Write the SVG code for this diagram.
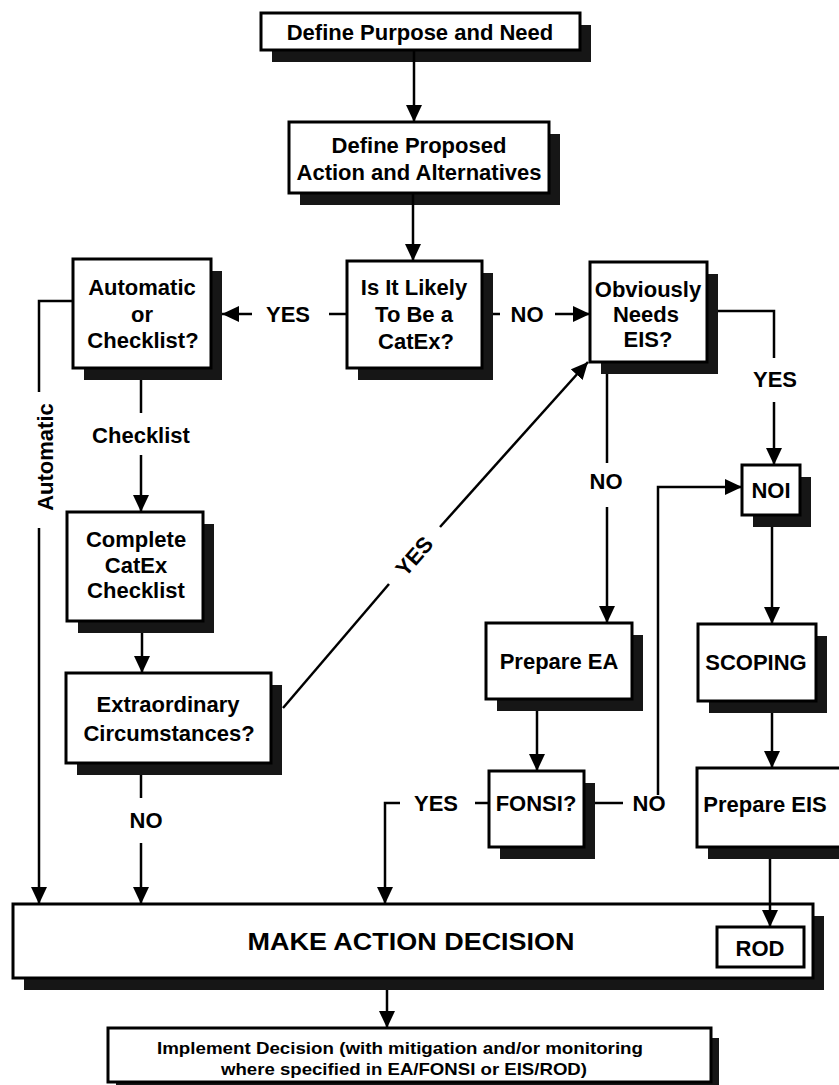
<svg xmlns="http://www.w3.org/2000/svg" width="839" height="1085" viewBox="0 0 839 1085">
<defs>
<marker id="ah" markerUnits="userSpaceOnUse" markerWidth="17" markerHeight="16" viewBox="0 0 17 16" refX="17" refY="8" orient="auto">
<path d="M0,0 L17,8 L0,16 Z" fill="#000"/>
</marker>
<style>
.box{fill:#fff;stroke:#000;stroke-width:3}
.sh{fill:#161616}
.t{font-family:"Liberation Sans",Arial,sans-serif;font-weight:bold;font-size:22px;text-anchor:middle;fill:#000}
.n{font-family:"Liberation Sans Narrow","Liberation Sans",Arial,sans-serif;font-weight:bold;text-anchor:middle;fill:#000}
.c{stroke:#000;stroke-width:2.5;fill:none}
.a{marker-end:url(#ah)}
</style>
</defs>
<rect width="839" height="1085" fill="#fff"/>

<g id="n-purpose">
<rect class="sh" x="272" y="25" width="319" height="37"/>
<rect class="box" x="261" y="13" width="319" height="37"/>
<text class="t" x="420" y="40">Define Purpose and Need</text>
</g>

<g id="n-proposed">
<rect class="sh" x="300" y="134" width="260" height="71"/>
<rect class="box" x="289" y="122" width="260" height="71"/>
<text class="t" x="419" y="153">Define Proposed</text>
<text class="t" x="419" y="180">Action and Alternatives</text>
</g>

<g id="n-likely">
<rect class="sh" x="358" y="273" width="135" height="107"/>
<rect class="box" x="347" y="261" width="135" height="107"/>
<text class="t" x="414" y="295">Is It Likely</text>
<text class="t" x="414" y="322">To Be a</text>
<text class="t" x="416" y="349">CatEx?</text>
</g>

<g id="n-automatic">
<rect class="sh" x="84" y="271" width="138" height="109"/>
<rect class="box" x="73" y="259" width="138" height="109"/>
<text class="t" x="142" y="295">Automatic</text>
<text class="t" x="142" y="322">or</text>
<text class="t" x="143" y="348">Checklist?</text>
</g>

<g id="n-obviously">
<rect class="sh" x="601" y="274" width="117" height="100"/>
<rect class="box" x="590" y="262" width="117" height="100"/>
<text class="t" x="648" y="297">Obviously</text>
<text class="t" x="646" y="322">Needs</text>
<text class="t" x="648" y="347">EIS?</text>
</g>

<g id="n-complete">
<rect class="sh" x="78" y="524" width="136" height="109"/>
<rect class="box" x="67" y="512" width="136" height="109"/>
<text class="t" x="136" y="547">Complete</text>
<text class="t" x="136" y="573">CatEx</text>
<text class="t" x="136" y="598">Checklist</text>
</g>

<g id="n-extraordinary">
<rect class="sh" x="77" y="685" width="205" height="90"/>
<rect class="box" x="66" y="673" width="205" height="90"/>
<text class="t" x="168" y="712">Extraordinary</text>
<text class="t" x="169" y="741">Circumstances?</text>
</g>

<g id="n-noi">
<rect class="sh" x="753" y="477" width="58" height="50"/>
<rect class="box" x="742" y="465" width="58" height="50"/>
<text class="t" x="771" y="498">NOI</text>
</g>

<g id="n-prepare-ea">
<rect class="sh" x="497" y="635" width="146" height="76"/>
<rect class="box" x="486" y="623" width="146" height="76"/>
<text class="t" x="559" y="669">Prepare EA</text>
</g>

<g id="n-scoping">
<rect class="sh" x="709" y="636" width="118" height="77"/>
<rect class="box" x="698" y="624" width="118" height="77"/>
<text class="t" x="756" y="670">SCOPING</text>
</g>

<g id="n-fonsi">
<rect class="sh" x="500" y="783" width="95" height="76"/>
<rect class="box" x="489" y="771" width="95" height="76"/>
<text class="t" x="536" y="811">FONSI?</text>
</g>

<g id="n-prepare-eis">
<rect class="sh" x="708" y="780" width="150" height="79"/>
<rect class="box" x="697" y="768" width="150" height="79"/>
<text class="t" x="765" y="812">Prepare EIS</text>
</g>

<g id="n-decision">
<rect class="sh" x="24" y="916" width="800" height="74"/>
<rect class="box" x="13" y="904" width="800" height="74"/>
<text class="n" x="411" y="950" font-size="24" textLength="327" lengthAdjust="spacingAndGlyphs">MAKE ACTION DECISION</text>
</g>

<g id="n-rod">
<rect class="box" x="717" y="927" width="87" height="40"/>
<text class="t" x="760" y="956" font-size="23px">ROD</text>
</g>

<g id="n-implement">
<rect class="sh" x="116" y="1038" width="603" height="54"/>
<rect class="box" x="108" y="1028" width="603" height="54"/>
<text class="n" x="400" y="1054" font-size="17" textLength="486" lengthAdjust="spacingAndGlyphs">Implement Decision (with mitigation and/or monitoring</text>
<text class="n" x="404" y="1075" font-size="17" textLength="366" lengthAdjust="spacingAndGlyphs">where specified in EA/FONSI or EIS/ROD)</text>
</g>

<g id="connectors">
<line class="c a" x1="414" y1="50" x2="414" y2="122"/>
<line class="c a" x1="413" y1="193" x2="413" y2="261"/>

<line class="c" x1="347" y1="314" x2="329" y2="314"/>
<text class="t" x="288" y="322">YES</text>
<line class="c a" x1="252" y1="314" x2="222" y2="314"/>

<line class="c" x1="493" y1="314" x2="500" y2="314"/>
<text class="t" x="527" y="322">NO</text>
<line class="c a" x1="555" y1="314" x2="590" y2="314"/>

<line class="c" x1="141" y1="380" x2="141" y2="413"/>
<text class="t" x="141" y="443">Checklist</text>
<line class="c a" x1="141" y1="455" x2="141" y2="512"/>

<polyline class="c" points="73,301 39,301 39,392"/>
<text class="t" transform="translate(53,457) rotate(-90)" x="0" y="0">Automatic</text>
<line class="c a" x1="39" y1="528" x2="39" y2="904"/>

<line class="c a" x1="142" y1="633" x2="142" y2="673"/>

<line class="c" x1="141" y1="775" x2="141" y2="798"/>
<text class="t" x="146" y="828">NO</text>
<line class="c a" x1="141" y1="843" x2="141" y2="904"/>

<line class="c" x1="283" y1="708" x2="389" y2="584"/>
<text class="t" transform="translate(414,556) rotate(-48.6)" x="0" y="8">YES</text>
<line class="c a" x1="440" y1="527" x2="588" y2="362"/>

<polyline class="c" points="718,311 774,311 774,358"/>
<text class="t" x="775" y="387">YES</text>
<line class="c a" x1="774" y1="402" x2="774" y2="465"/>

<line class="c" x1="607" y1="374" x2="607" y2="463"/>
<text class="t" x="606" y="489">NO</text>
<line class="c a" x1="607" y1="507" x2="607" y2="623"/>

<line class="c a" x1="537" y1="711" x2="537" y2="771"/>

<line class="c" x1="489" y1="803" x2="475" y2="803"/>
<text class="t" x="436" y="811">YES</text>
<polyline class="c a" points="400,803 385,803 385,904"/>

<line class="c" x1="595" y1="803" x2="623" y2="803"/>
<text class="t" x="649" y="811">NO</text>
<polyline class="c a" points="658,795 658,487 742,487"/>

<line class="c a" x1="772" y1="527" x2="772" y2="624"/>
<line class="c a" x1="772" y1="713" x2="772" y2="768"/>
<line class="c a" x1="770" y1="859" x2="770" y2="927"/>
<line class="c a" x1="387" y1="990" x2="387" y2="1028"/>
</g>
</svg>
